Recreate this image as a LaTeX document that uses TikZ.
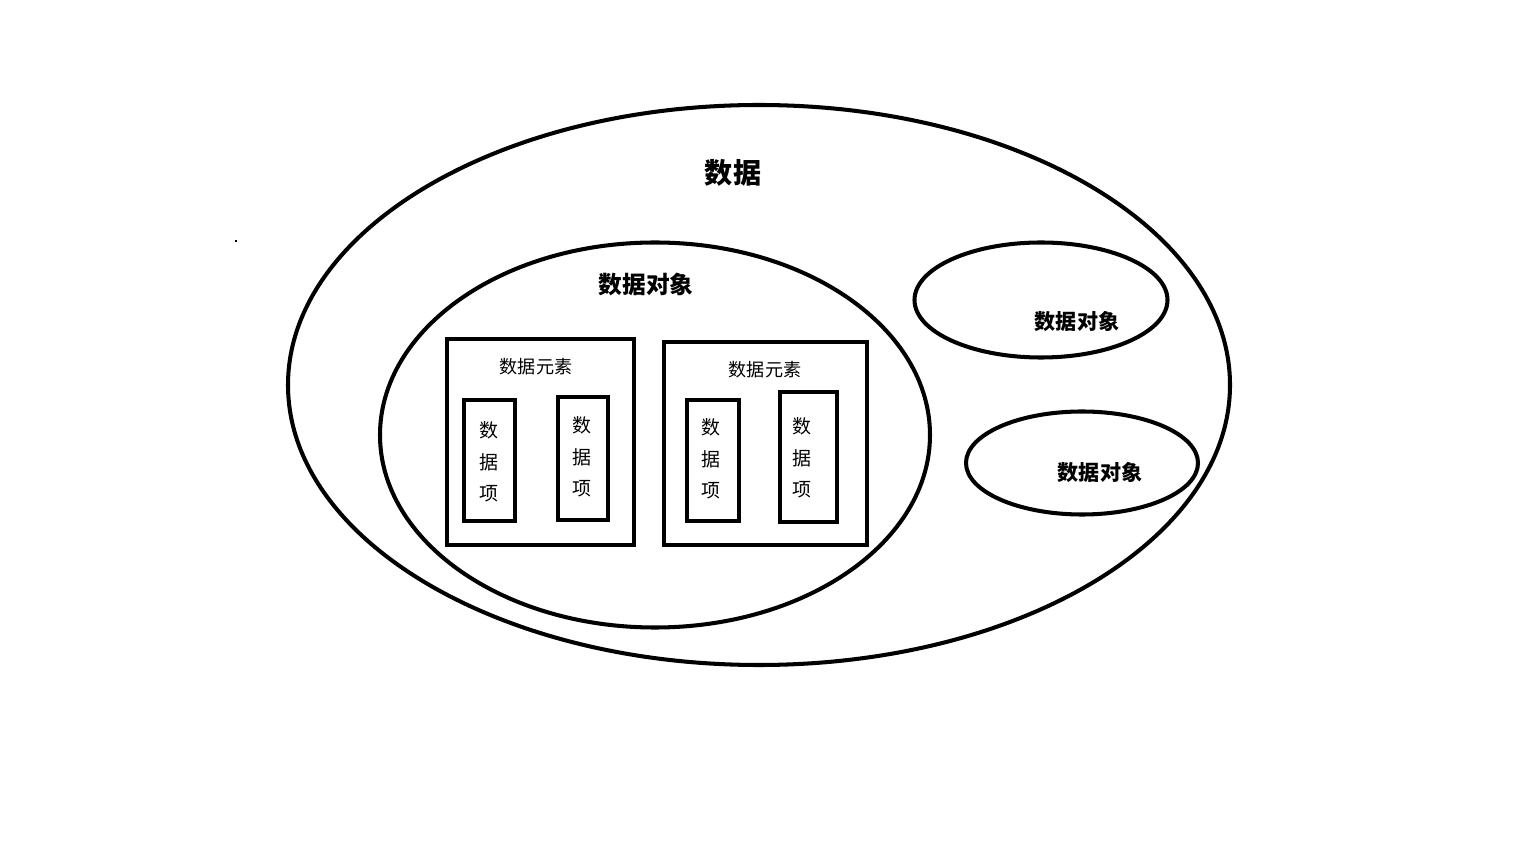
\documentclass[tikz,border=0pt]{standalone}
\usepackage{fontspec}
\setmainfont{Noto Sans CJK SC}
\usetikzlibrary{shapes.geometric}
\tikzset{
  ell/.style={draw, ellipse, line width=2.3pt, inner sep=0pt},
  elembox/.style={draw, rectangle, line width=2.3pt, inner sep=0pt, outer sep=0pt, anchor=north west},
  itembox/.style={draw, rectangle, line width=2.8pt, inner sep=0pt, outer sep=0pt, anchor=north west},
  itemtext/.style={font=\fontsize{10.8}{18}\selectfont, align=center},
}
\begin{document}
\begin{tikzpicture}[x=0.02cm, y=-0.02cm]
\useasboundingbox (0,0) rectangle (1536,864);
% outer ellipse
\node[ell, minimum width=942*0.02cm, minimum height=560*0.02cm] (data) at (759,385) {};
\node[font=\fontsize{16}{19}\bfseries] (datalbl) at (733,173) {数据};
% inner ellipse
\node[ell, minimum width=550*0.02cm, minimum height=385*0.02cm] (obj1) at (655,435) {};
\node[font=\fontsize{13.5}{16}\bfseries] (obj1lbl) at (646,285) {数据对象};
% small ellipses
\node[ell, minimum width=253*0.02cm, minimum height=115*0.02cm] (obj2) at (1041,300) {};
\node[font=\fontsize{12}{14}\bfseries] (obj2lbl) at (1077,322) {数据对象};
\node[ell, minimum width=232*0.02cm, minimum height=103*0.02cm] (obj3) at (1082,463) {};
\node[font=\fontsize{12}{14}\bfseries] (obj3lbl) at (1100,473) {数据对象};
% element boxes
\node[elembox, minimum width=187*0.02cm, minimum height=206*0.02cm] (el1) at (447,339) {};
\node[font=\fontsize{10.3}{12}\selectfont] (el1lbl) at (536,367) {数据元素};
\node[elembox, minimum width=203*0.02cm, minimum height=203*0.02cm] (el2) at (664,342) {};
\node[font=\fontsize{10.3}{12}\selectfont] (el2lbl) at (765,370) {数据元素};
% item boxes
\node[itembox, minimum width=51*0.02cm, minimum height=121*0.02cm] (it1) at (464,400) {};
\node[itemtext] (it1lbl) at (489,462) {数\\据\\项};
\node[itembox, minimum width=50*0.02cm, minimum height=123*0.02cm] (it2) at (558,397) {};
\node[itemtext] (it2lbl) at (582,457) {数\\据\\项};
\node[itembox, minimum width=52*0.02cm, minimum height=121*0.02cm] (it3) at (687,400) {};
\node[itemtext] (it3lbl) at (711,459) {数\\据\\项};
\node[itembox, minimum width=57*0.02cm, minimum height=130*0.02cm] (it4) at (780,392) {};
\node[itemtext] (it4lbl) at (802,458) {数\\据\\项};
% stray dot
\fill (235,240) rectangle (237,242);
\end{tikzpicture}
\end{document}
